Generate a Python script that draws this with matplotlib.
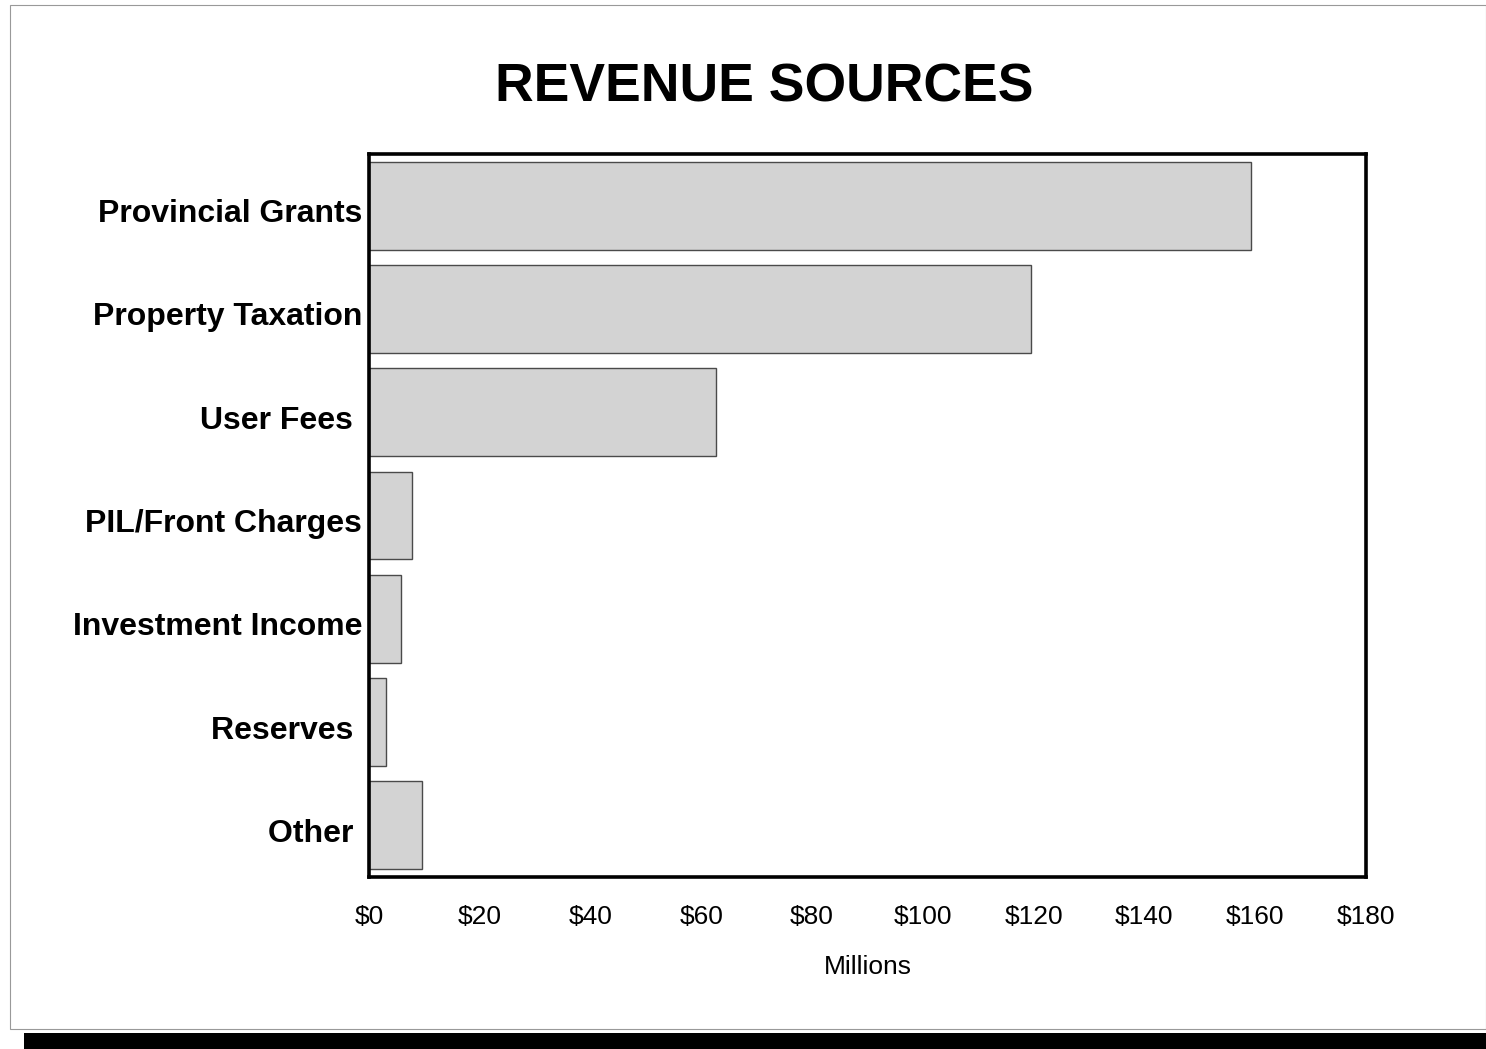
import matplotlib
matplotlib.use("Agg")
import matplotlib.pyplot as plt
from matplotlib.patches import Rectangle
from matplotlib.transforms import ScaledTranslation

# Revenue sources, in millions of dollars
categories = ["Provincial Grants", "Property Taxation", "User Fees ",
              "PIL/Front Charges", "Investment Income", "Reserves ", "Other "]
values = [159.2, 119.6, 62.6, 7.7, 5.7, 3.1, 9.6]
x_ticks = [0, 20, 40, 60, 80, 100, 120, 140, 160, 180]
x_tick_labels = ["$0", "$20", "$40", "$60", "$80", "$100", "$120", "$140", "$160", "$180"]

plt.rcParams["font.family"] = ["Liberation Sans", "DejaVu Sans"]

fig = plt.figure(figsize=(14.86, 10.49), dpi=100)
W, H = 1486, 1049
ax = fig.add_axes([369 / W, 1 - 877 / H, (1366 - 369) / W, (877 - 154) / H])

ypos = list(range(len(categories)))
ax.barh(ypos, values, height=0.85, color="#d3d3d3", edgecolor="#4a4a4a", linewidth=1.0)
ax.set_ylim(len(categories) - 0.5, -0.5)
ax.set_xlim(0, 180)

ax.set_yticks(ypos)
ax.set_yticklabels(categories, fontsize=23, fontweight="bold")
ax.set_xticks(x_ticks)
ax.set_xticklabels(x_tick_labels, fontsize=19)
ax.tick_params(axis="both", length=0)
ax.tick_params(axis="x", pad=20)
ax.tick_params(axis="y", pad=5)
ax.set_xlabel("Millions", fontsize=19, labelpad=19)

# category labels sit a little below the bar centres
shift = ScaledTranslation(0, -5 / 100, fig.dpi_scale_trans)
for lbl in ax.get_yticklabels():
    lbl.set_transform(lbl.get_transform() + shift)

for s in ax.spines.values():
    s.set_linewidth(2.6)
    s.set_color("black")

fig.text(0.514, 1 - 88 / H, "REVENUE SOURCES", ha="center", va="center",
         fontsize=38.5, fontweight="bold")

# page frame and the heavy rule along the bottom
fig.patches.append(Rectangle((10 / W, 1 - 1029 / H), 1 - 10 / W, (1029 - 5) / H,
                             transform=fig.transFigure, fill=False,
                             edgecolor="#999999", linewidth=0.8))
fig.patches.append(Rectangle((24 / W, 0), 1 - 24 / W, 16 / H,
                             transform=fig.transFigure, facecolor="black",
                             edgecolor="none"))

fig.savefig("out.png", dpi=100, facecolor="white")
